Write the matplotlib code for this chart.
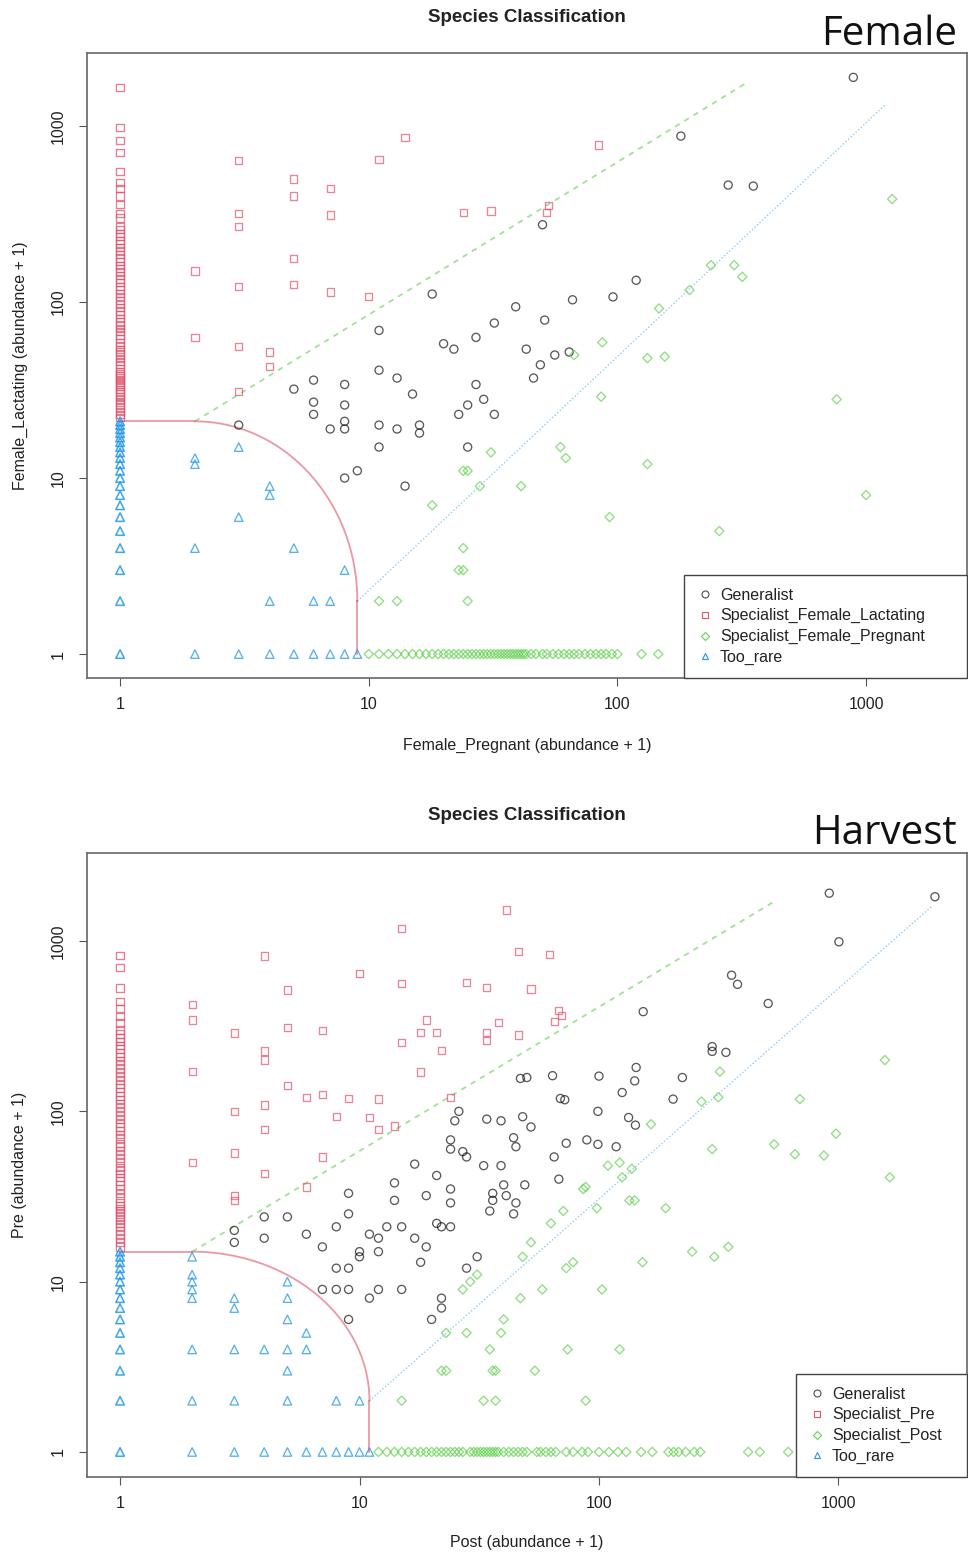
import numpy as np
import matplotlib.pyplot as plt
from matplotlib.lines import Line2D
from matplotlib.ticker import NullLocator

plt.rcParams['font.family'] = ['Liberation Sans', 'DejaVu Sans']

# R 4.x default palette
col_gen = '#000000'
col_red = '#DF536B'
col_green = '#61D04F'
col_blue = '#2297E6'

# ---------------- Female panel (x = pregnant + 1, y = lactating + 1) ----------------
fem_gen_x = [50, 119, 96, 66, 39, 51, 32, 18, 11, 27, 20, 22, 43, 56, 64, 49, 11, 13, 46, 15,
             27, 25, 29, 23, 32, 11, 13, 16, 16, 11, 25, 14, 5, 6, 8, 6, 6, 8, 8, 8,
             7, 3, 8, 9, 180, 889, 279, 352]
fem_gen_y = [275, 133, 107, 103, 94, 79, 76, 111, 69, 63, 58, 54, 54, 50, 52, 44, 41, 37, 37, 30,
             34, 26, 28, 23, 23, 20, 19, 20, 18, 15, 15, 9, 32, 36, 34, 27, 23, 26, 21, 19,
             19, 20, 10, 11, 877, 1890, 462, 456]

fem_lac_col = [1650, 980, 830, 710, 550, 480, 440, 400, 360, 320, 300, 270, 258, 246, 235, 224,
               214, 204, 195, 186, 178, 170, 162, 155, 148, 141, 135, 129, 123, 117, 112, 107,
               102, 97, 93, 89, 85, 81, 77, 74, 71, 68, 65, 62, 59, 56, 54, 52, 50, 48, 46, 44,
               42, 40, 39, 38, 37, 36, 35, 34, 33, 32, 31, 30, 29, 28, 27, 26, 25, 24, 23, 22]
fem_lac_x = [3, 11, 5, 5, 7, 7, 3, 3, 2, 5, 5, 3, 7, 10, 2, 3, 4, 4, 3, 14, 84, 24, 31, 53, 52]
fem_lac_y = [640, 646, 500, 400, 443, 312, 320, 270, 150, 177, 126, 123, 114, 107, 63, 56, 52, 43,
             31, 863, 780, 324, 329, 353, 324]

fem_preg_row = [10, 11, 12, 13, 14, 15, 16, 17, 18, 19, 20, 21, 22, 23, 24, 25, 26, 27, 28, 29,
                30, 31, 32, 33, 34, 35, 36, 37, 38, 39, 40, 41, 42, 43, 45, 47, 50, 52, 55, 58,
                61, 64, 67, 70, 74, 78, 82, 86, 90, 95, 100, 125, 146]
fem_preg_x = [86, 59, 62, 132, 31, 24, 25, 28, 41, 18, 93, 24, 23, 24, 11, 13, 25, 147, 87, 132,
              155, 67, 195, 238, 295, 318, 1274, 762, 1000, 257]
fem_preg_y = [29, 15, 13, 12, 14, 11, 11, 9, 9, 7, 6, 4, 3, 3, 2, 2, 2, 92, 59, 48,
              49, 50, 117, 162, 162, 139, 385, 28, 8, 5]

fem_rare_col = list(range(1, 22))
fem_rare_x = [2, 2, 2, 2, 3, 3, 3, 4, 4, 4, 4, 5, 5, 6, 6, 7, 7, 8, 8, 9]
fem_rare_y = [13, 12, 4, 1, 15, 6, 1, 9, 8, 2, 1, 4, 1, 2, 1, 2, 1, 3, 1, 1]

# classification boundaries (data units)
fem_corner = 2
fem_xthr = 9
fem_ythr = 21
fem_gen_line = [(2, 21), (335, 1780)]
fem_spec_line = [(9, 2), (1200, 1330)]

# ---------------- Harvest panel (x = post + 1, y = pre + 1) ----------------
har_gen_x = [153, 143, 141, 125, 100, 64, 47, 50, 69, 72, 99, 133, 142, 26, 25, 34, 39, 48, 52, 24,
             24, 27, 28, 44, 45, 73, 89, 99, 118, 65, 17, 33, 39, 21, 14, 14, 19, 24, 24, 40,
             49, 36, 36, 41, 45, 35, 44, 68, 21, 22, 24, 13, 15, 17, 11, 12, 12, 19, 18, 31,
             28, 11, 12, 15, 22, 22, 20, 9, 9, 8, 4, 5, 3, 3, 4, 6, 7, 10, 10, 8,
             9, 7, 8, 9, 9, 916, 2530, 1005, 358, 379, 509, 297, 297, 339, 223, 204]
har_gen_y = [385, 181, 151, 129, 161, 162, 156, 158, 119, 117, 100, 92, 83, 100, 88, 90, 88, 93, 81, 68,
             60, 58, 54, 70, 62, 65, 68, 64, 62, 54, 49, 48, 48, 42, 38, 30, 32, 35, 29, 37,
             37, 33, 30, 32, 29, 26, 25, 40, 22, 21, 21, 21, 21, 18, 19, 18, 15, 16, 13, 14,
             12, 8, 9, 9, 8, 7, 6, 33, 25, 21, 24, 24, 20, 17, 18, 19, 16, 15, 14, 12,
             12, 9, 9, 9, 6, 1910, 1820, 990, 630, 557, 430, 240, 225, 222, 158, 118]

har_pre_col = [820, 700, 530, 440, 400, 360, 330, 300, 285, 270, 257, 244, 232, 220, 209, 198,
               188, 178, 169, 160, 152, 144, 137, 130, 123, 117, 111, 105, 100, 95, 90, 85, 81,
               77, 73, 69, 65, 62, 59, 56, 53, 50, 47, 45, 43, 41, 39, 37, 35, 33, 31, 29, 28,
               27, 26, 25, 24, 23, 22, 21, 20, 19, 18, 17, 16]
har_pre_x = [4, 10, 5, 2, 2, 3, 5, 7, 4, 4, 2, 5, 6, 7, 9, 12, 3, 4, 8, 11,
             4, 12, 3, 2, 7, 4, 3, 3, 6, 41, 15, 46, 62, 15, 28, 34, 52, 19, 18, 21,
             22, 15, 34, 34, 38, 46, 68, 70, 65, 18, 24, 14]
har_pre_y = [817, 647, 516, 422, 344, 288, 310, 298, 226, 200, 171, 142, 121, 125, 119, 118, 100, 109, 93, 92,
             78, 78, 57, 50, 54, 43, 32, 30, 36, 1520, 1180, 867, 836, 565, 573, 532, 523, 344, 290, 290,
             227, 253, 290, 260, 333, 281, 390, 365, 336, 170, 121, 82]

har_post_row = [12, 13, 14, 15, 16, 17, 18, 19, 20, 21, 22, 23, 24, 25, 26, 27, 29, 30, 31, 32,
                33, 34, 35, 36, 37, 38, 40, 42, 44, 46, 48, 50, 55, 57, 60, 63, 66, 73, 78, 85,
                90, 100, 110, 120, 130, 150, 167, 195, 205, 215, 230, 250, 265, 420, 470, 617]
har_post_x = [109, 122, 137, 125, 86, 88, 71, 98, 134, 141, 190, 63, 52, 48, 73, 78, 152, 27, 29, 31,
              47, 58, 103, 40, 23, 28, 39, 35, 74, 122, 22, 23, 36, 37, 54, 15, 33, 37, 88, 320,
              268, 315, 690, 1563, 297, 977, 539, 658, 870, 1640, 245, 303, 347, 165]
har_post_y = [48, 50, 46, 41, 35, 36, 26, 27, 30, 30, 27, 22, 17, 14, 12, 13, 13, 9, 10, 11,
              8, 9, 9, 6, 5, 5, 5, 4, 4, 4, 3, 3, 3, 3, 3, 2, 2, 2, 2, 171,
              114, 121, 118, 200, 60, 74, 64, 56, 55, 41, 15, 14, 16, 84]

har_rare_col = list(range(1, 16))
har_rare_x = [2, 2, 2, 2, 2, 2, 2, 2, 3, 3, 3, 3, 3, 4, 4, 5, 5, 5, 5, 5,
              5, 5, 6, 6, 6, 7, 8, 8, 9, 10, 10, 11]
har_rare_y = [14, 11, 10, 9, 8, 4, 2, 1, 8, 7, 4, 2, 1, 4, 1, 10, 8, 6, 4, 3,
              2, 1, 5, 4, 1, 1, 2, 1, 1, 2, 1, 1]

har_corner = 2
har_xthr = 11
har_ythr = 15
har_gen_line = [(2, 15), (537, 1700)]
har_spec_line = [(11, 2), (2480, 1620)]

FS = 11.5


def draw_panel(ax, gen, spec_y, spec_x, rare, corner, xthr, ythr, gen_line, spec_line,
               xlim, ylim, labels, leg_x0):
    ms = 34
    lw = 0.95
    # boundary of the "too rare" zone: flat, quarter ellipse in log space, vertical
    t = np.linspace(0, np.pi / 2, 100)
    lc = np.log10(corner)
    bx = 10 ** (lc + (np.log10(xthr) - lc) * np.cos(t))
    by = 10 ** (lc + (np.log10(ythr) - lc) * np.sin(t))
    ax.plot([1, corner], [ythr, ythr], color=col_red, lw=1.3, alpha=0.6, zorder=1)
    ax.plot(bx, by, color=col_red, lw=1.3, alpha=0.6, zorder=1)
    ax.plot([xthr, xthr], [1, corner], color=col_red, lw=1.3, alpha=0.6, zorder=1)
    ax.plot([p[0] for p in gen_line], [p[1] for p in gen_line], color=col_green,
            lw=1.3, ls=(0, (3, 3)), alpha=0.6, zorder=1)
    ax.plot([p[0] for p in spec_line], [p[1] for p in spec_line], color=col_blue,
            lw=1.0, ls=(0, (1, 1.5)), alpha=0.5, zorder=1)

    ax.scatter(gen[0], gen[1], marker='o', facecolors='none', edgecolors=col_gen,
               s=ms, linewidths=lw, alpha=0.65, zorder=3)
    ax.scatter(np.ones(len(spec_y[0])), spec_y[0], marker='s', facecolors='none',
               edgecolors=col_red, s=ms * 0.8, linewidths=lw, alpha=0.75, zorder=3)
    ax.scatter(spec_y[1], spec_y[2], marker='s', facecolors='none', edgecolors=col_red,
               s=ms * 0.8, linewidths=lw, alpha=0.7, zorder=3)
    ax.scatter(spec_x[0], np.ones(len(spec_x[0])), marker='D', facecolors='none',
               edgecolors=col_green, s=ms * 0.65, linewidths=lw, alpha=0.7, zorder=3)
    ax.scatter(spec_x[1], spec_x[2], marker='D', facecolors='none', edgecolors=col_green,
               s=ms * 0.65, linewidths=lw, alpha=0.7, zorder=3)
    ax.scatter(np.ones(len(rare[0])), rare[0], marker='^', facecolors='none',
               edgecolors=col_blue, s=ms * 1.1, linewidths=lw * 1.2, alpha=0.85, zorder=3)
    ax.scatter(rare[1], rare[2], marker='^', facecolors='none', edgecolors=col_blue,
               s=ms * 1.1, linewidths=lw, alpha=0.75, zorder=3)

    ax.set_xscale('log')
    ax.set_yscale('log')
    ax.set_xlim(xlim)
    ax.set_ylim(ylim)
    ax.set_xticks([1, 10, 100, 1000])
    ax.set_xticklabels(['1', '10', '100', '1000'])
    ax.set_yticks([1, 10, 100, 1000])
    ax.set_yticklabels(['1', '10', '100', '1000'], rotation=90, va='center')
    ax.xaxis.set_minor_locator(NullLocator())
    ax.yaxis.set_minor_locator(NullLocator())
    ax.tick_params(axis='x', direction='out', length=6, width=0.8, color='#555555',
                   labelsize=FS, pad=8, labelcolor='#222222')
    ax.tick_params(axis='y', direction='out', length=6, width=0.8, color='#555555',
                   labelsize=FS, pad=9, labelcolor='#222222')
    for s in ax.spines.values():
        s.set_color('#666666')
        s.set_linewidth(1.2)

    handles = [
        Line2D([], [], marker='o', ls='none', mfc='none', mec=col_gen, ms=5, mew=0.8, alpha=0.7),
        Line2D([], [], marker='s', ls='none', mfc='none', mec=col_red, ms=4.5, mew=0.8),
        Line2D([], [], marker='D', ls='none', mfc='none', mec=col_green, ms=4, mew=0.8),
        Line2D([], [], marker='^', ls='none', mfc='none', mec=col_blue, ms=5, mew=0.8),
    ]
    leg = ax.legend(handles, labels, loc='lower left', mode='expand',
                    bbox_to_anchor=(leg_x0, 0, 1 - leg_x0, 0.2), borderaxespad=0,
                    fancybox=False, framealpha=1, edgecolor='#444444', fontsize=FS,
                    handlelength=1.0, handletextpad=0.45, borderpad=0.8,
                    labelspacing=0.36, labelcolor='#222222')
    leg.get_frame().set_linewidth(1.0)


fig = plt.figure(figsize=(9.68, 15.55), dpi=100)

ax1 = fig.add_axes([87 / 968, 1 - 678 / 1555, 880 / 968, 625 / 1555])
draw_panel(ax1, (fem_gen_x, fem_gen_y), (fem_lac_col, fem_lac_x, fem_lac_y),
           (fem_preg_row, fem_preg_x, fem_preg_y), (fem_rare_col, fem_rare_x, fem_rare_y),
           fem_corner, fem_xthr, fem_ythr, fem_gen_line, fem_spec_line,
           (10 ** -0.133, 10 ** 3.406), (10 ** -0.136, 10 ** 3.415),
           ['Generalist', 'Specialist_Female_Lactating', 'Specialist_Female_Pregnant', 'Too_rare'],
           (684 - 87) / 880)

ax2 = fig.add_axes([87 / 968, 1 - 1477 / 1555, 880 / 968, 624 / 1555])
draw_panel(ax2, (har_gen_x, har_gen_y), (har_pre_col, har_pre_x, har_pre_y),
           (har_post_row, har_post_x, har_post_y), (har_rare_col, har_rare_x, har_rare_y),
           har_corner, har_xthr, har_ythr, har_gen_line, har_spec_line,
           (10 ** -0.138, 10 ** 3.537), (10 ** -0.147, 10 ** 3.517),
           ['Generalist', 'Specialist_Pre', 'Specialist_Post', 'Too_rare'],
           (796 - 87) / 880)

# titles and axis labels
fig.text(527 / 968, 1 - 17 / 1555, 'Species Classification', ha='center', va='center',
         fontsize=13.5, fontweight='bold', color='#222222')
fig.text(527 / 968, 1 - 815 / 1555, 'Species Classification', ha='center', va='center',
         fontsize=13.5, fontweight='bold', color='#222222')
fig.text(527 / 968, 1 - 745 / 1555, 'Female_Pregnant (abundance + 1)', ha='center',
         va='center', fontsize=FS, color='#222222')
fig.text(527 / 968, 1 - 1543 / 1555, 'Post (abundance + 1)', ha='center',
         va='center', fontsize=FS, color='#222222')
fig.text(20 / 968, 1 - 366 / 1555, 'Female_Lactating (abundance + 1)', ha='center',
         va='center', rotation=90, fontsize=FS, color='#222222')
fig.text(20 / 968, 1 - 1165 / 1555, 'Pre (abundance + 1)', ha='center',
         va='center', rotation=90, fontsize=FS, color='#222222')

fig.text(957 / 968, 1 - 45 / 1555, 'Female', ha='right', va='baseline', fontsize=29,
         family=['Open Sans', 'DejaVu Sans'], color='#111111')
fig.text(957 / 968, 1 - 844 / 1555, 'Harvest', ha='right', va='baseline', fontsize=29,
         family=['Open Sans', 'DejaVu Sans'], color='#111111')

fig.savefig('out.png', dpi=100)
